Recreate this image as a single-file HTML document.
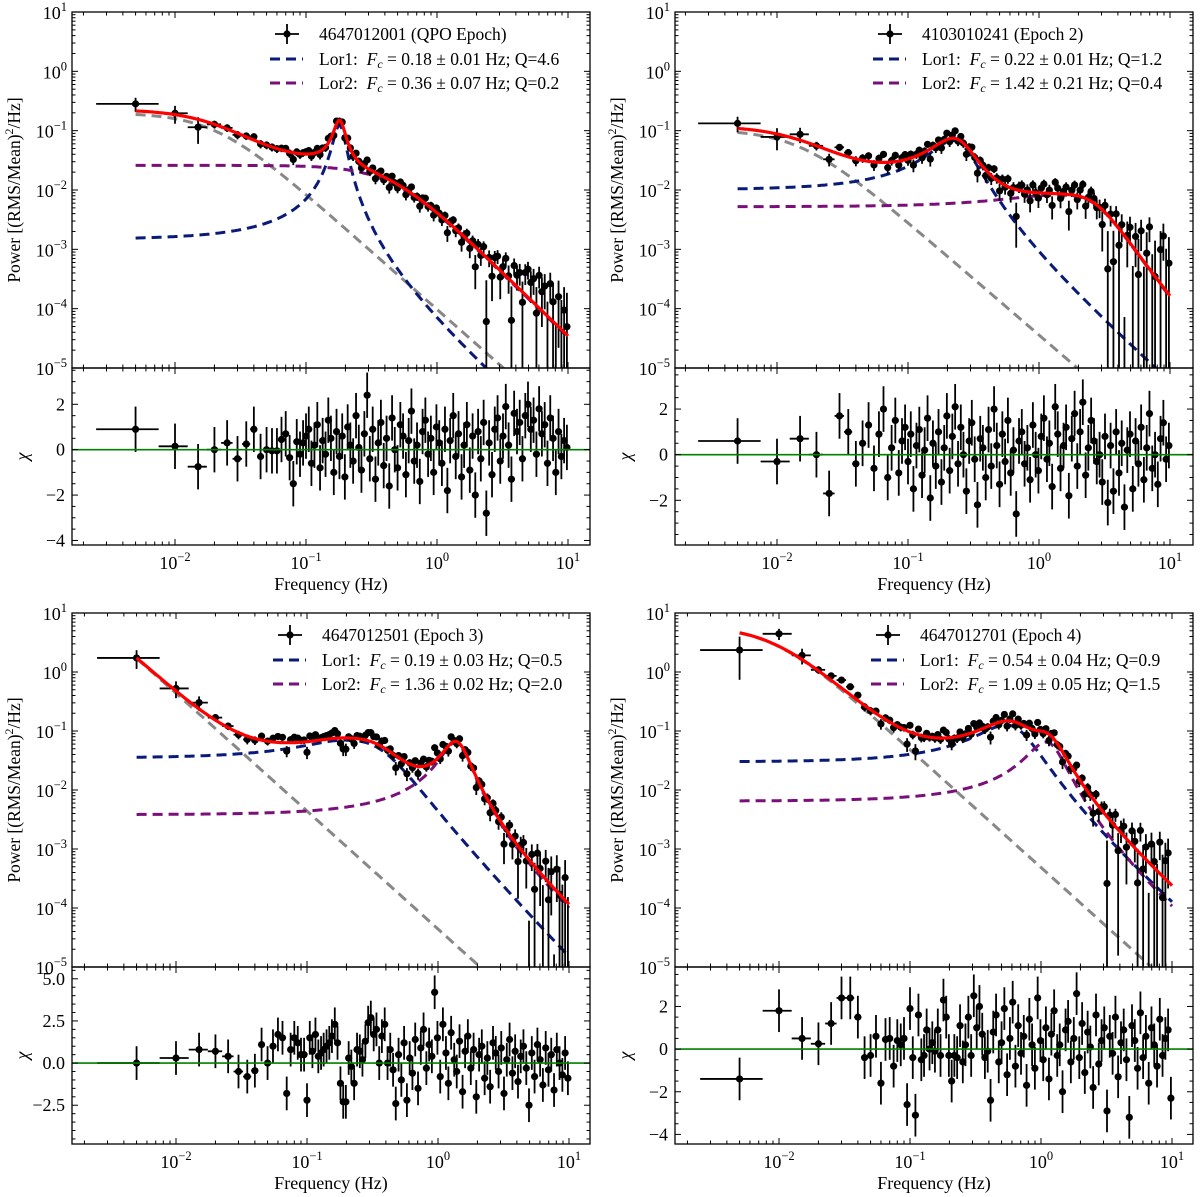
<!DOCTYPE html>
<html><head><meta charset="utf-8"><style>
html,body{margin:0;padding:0;background:#fff;}
svg{display:block;font-family:"Liberation Serif",serif;}
</style></head><body>
<svg id="fig" width="1200" height="1197" viewBox="0 0 1200 1197" xmlns="http://www.w3.org/2000/svg">
<rect x="0" y="0" width="1200" height="1197" fill="#fff"/>
</svg>
<script>
const freqs=[0.005,0.01,0.015,0.02,0.025,0.03,0.035,0.04,0.045,0.05,0.055,0.06,0.065,0.07,0.075,0.08,0.085,0.09,0.095,0.1,
0.105,0.11,0.116,0.122,0.128,0.134,0.141,0.148,0.155,0.163,0.171,0.18,0.189,0.198,0.208,0.218,0.229,0.241,0.253,0.265,
0.279,0.293,0.307,0.323,0.339,0.356,0.373,0.392,0.412,0.432,0.454,0.476,0.5,0.525,0.551,0.579,0.608,0.638,0.67,0.704,
0.739,0.776,0.815,0.855,0.898,0.943,0.99,1.04,1.09,1.15,1.2,1.26,1.33,1.39,1.46,1.54,1.61,1.69,1.78,1.87,
1.96,2.06,2.16,2.27,2.38,2.5,2.63,2.76,2.9,3.04,3.19,3.35,3.52,3.7,3.88,4.08,4.28,4.49,4.72,4.95,
5.2,5.46,5.74,6.02,6.32,6.64,6.97,7.32,7.69,8.07,8.47,8.9,9.34,9.81];
const chiTL=[0.9,0.15,-0.75,0.0,0.3,-0.4,0.25,0.9,-0.3,0.0,-0.05,-0.05,0.45,0.7,-0.35,-1.5,0.35,-0.2,0.3,0.6,
0.9,-0.6,0.2,1.1,-0.8,0.4,-0.2,1.3,0.5,-1.0,0.8,-0.3,0.6,-1.2,1.0,0.2,-0.5,1.5,0.1,-0.9,
0.7,2.4,-0.4,0.9,-1.3,0.3,1.2,-0.7,0.5,-1.6,1.4,0.0,-0.8,1.1,0.6,-1.1,0.4,1.7,-0.5,0.2,
-1.4,0.8,1.3,-0.2,0.5,-1.0,1.0,0.3,-0.6,0.9,-1.8,0.4,1.5,-0.3,0.7,-1.2,0.2,1.1,-0.9,0.6,
-2.0,0.8,-0.4,1.2,-2.8,0.3,-1.1,0.9,1.4,-0.5,0.6,1.9,0.2,-1.3,1.6,0.8,1.2,-0.4,1.5,2.0,
0.9,1.3,-0.2,1.8,0.7,1.1,-0.6,1.4,0.5,-1.0,0.8,-0.3,0.4,0.1];
const chiTR=[0.6,-0.3,0.7,0.0,-1.7,1.7,1.0,-0.4,0.5,1.3,-0.6,0.9,2.0,-1.0,0.3,1.5,-0.8,0.6,1.2,-0.3,
0.9,-1.5,0.4,1.1,-0.9,0.2,1.6,-1.9,0.5,-0.5,1.0,-1.2,0.3,1.7,-0.7,0.8,2.1,-0.4,1.2,0.0,
-1.6,0.6,1.4,-0.2,-2.2,0.7,0.3,-1.0,1.1,-0.5,2.0,0.4,-1.3,0.9,-0.3,1.5,-0.8,0.2,-2.6,0.6,
1.0,-0.4,0.3,-1.1,1.3,0.0,-0.7,0.8,1.6,-0.2,0.5,-1.4,2.1,0.9,-0.6,0.4,1.2,-1.8,0.7,1.8,
-0.5,1.0,2.3,-0.9,0.3,1.5,0.6,-0.3,0.0,-1.2,0.8,-2.1,0.4,-1.6,1.0,-0.8,0.5,-2.3,0.2,0.9,
-1.5,0.6,-0.4,1.2,-1.1,0.3,1.8,-0.6,0.0,-1.3,0.7,1.4,-0.2,0.4];
const chiBL=[0.0,0.3,0.8,0.7,0.4,-0.5,-0.8,-0.45,1.1,0.0,1.0,1.7,1.5,-1.8,0.8,1.5,1.2,0.5,0.5,-2.2,
1.5,0.7,1.7,0.4,0.6,0.8,1.0,1.2,1.6,2.3,1.2,-1.2,-2.3,-2.3,0.3,-0.2,-1.2,0.8,0.7,0.2,
1.3,2.4,2.7,1.7,2.0,0.0,1.6,2.3,0.0,0.8,-0.4,-2.4,0.5,-1.0,1.2,-2.2,0.3,-0.6,1.4,-1.5,
0.9,2.0,-0.3,1.1,0.4,4.2,1.5,-0.8,2.3,0.6,-1.2,1.8,0.2,-0.5,1.3,-1.7,0.7,1.6,-0.3,0.8,
-2.0,0.5,1.0,-0.9,0.3,-1.4,1.2,0.6,-0.5,0.9,-1.8,0.2,1.4,-0.6,0.7,-1.1,0.4,1.0,-0.3,-2.5,
0.6,-0.8,1.1,0.2,-1.3,0.9,-0.4,0.5,-1.6,0.8,0.0,-0.7,0.6,-0.9];
const chiBR=[-1.4,1.8,0.5,0.25,1.2,2.4,2.4,1.5,-0.4,-0.3,0.6,-1.6,0.45,0.5,-0.8,0.4,0.2,0.5,-2.6,1.9,
-0.4,-3.1,1.6,-0.5,-0.3,0.9,0.0,0.3,-0.1,0.9,-0.3,2.3,1.5,-0.3,-1.5,-0.3,-0.4,1.1,-0.6,0.2,
1.5,-0.3,2.5,1.0,2.0,0.7,-0.4,-0.1,-2.4,0.8,1.6,-0.6,0.3,1.9,-1.2,0.5,2.2,-0.8,1.1,-0.2,
0.6,-1.7,1.4,0.2,-0.9,2.4,0.4,-0.5,1.0,-1.4,0.7,1.8,-0.3,0.2,-2.0,0.9,1.3,-0.6,0.5,2.6,
-0.4,1.2,-1.1,0.8,0.1,-1.8,1.6,-0.7,0.4,1.0,-2.9,0.6,-0.2,1.5,-1.3,0.3,0.9,-0.5,-3.2,1.1,
0.4,-0.9,1.7,-0.4,0.6,-1.6,1.0,0.2,-0.8,1.4,-0.3,0.5,0.9,-2.3];
// component params [A, f0, wLow, wHigh, pLow, pHigh]
const grayTL=[0.2,0,1,0.02,2,1.95], blueTL=[0.125,0.18,0.0196,0.0196,2,2], purpTL=[0.026,0,1,0.45,2,2.15];
const grayTR=[0.105,0,1,0.015,2,1.9], blueTR=[0.068,0.22,0.0917,0.0917,2,2], purpTR=[0.0082,1.42,1.78,1.78,2.5,2.5];
const grayBL=[44,0,1,0.001,2,2], blueBL=[0.07,0.19,0.19,0.25,2,2.3], purpBL=[0.065,1.36,0.34,0.34,2,2];
const grayBR=[6,0,1,0.009,2,2], blueBR=[0.127,0.54,0.3,0.3,2,2], purpBR=[0.065,1.09,0.363,0.363,2,2];
const floorVals=[1.3e-4,1e-3,3e-4,6e-4];
const xTickLabels=["10","10","10","10"], xTickExps=["−2","−1","0","1"];
const yTickExps=["1","0","−1","−2","−3","−4","−5"];

const NS="http://www.w3.org/2000/svg";
const svg=document.getElementById('fig');
function mk(tag,attrs,parent){const e=document.createElementNS(NS,tag);for(const k in attrs)e.setAttribute(k,attrs[k]);(parent||svg).appendChild(e);return e;}
function lor(f,c){const d=f-c[1];const r=d<0?Math.pow(-d/c[2],c[4]):Math.pow(d/c[3],c[5]);return c[0]/(1+r);}

const panels=[
 {id:'tl',xL:72,xR:590,x2:175,yT:12,yM:368,yB:545,rTop:3.6,rBot:-4.2,rMaj:[-4,-2,0,2],rLab:["−4","−2","0","2"],rMinStep:0.5,
  gray:grayTL,blue:blueTL,purp:purpTL,chi:chiTL,floor:floorVals[0],title:"4647012001 (QPO Epoch)",l1:["0.18","0.01","4.6"],l2:["0.36","0.07","0.2"],dash:270},
 {id:'tr',xL:675,xR:1193,x2:777,yT:12,yM:368,yB:545,rTop:3.8,rBot:-3.96,rMaj:[-2,0,2],rLab:["−2","0","2"],rMinStep:0.5,
  gray:grayTR,blue:blueTR,purp:purpTR,chi:chiTR,floor:floorVals[1],title:"4103010241 (Epoch 2)",l1:["0.22","0.01","1.2"],l2:["1.42","0.21","0.4"],dash:873},
 {id:'bl',xL:72,xR:590,x2:176,yT:613,yM:967,yB:1144,rTop:5.7,rBot:-4.8,rMaj:[-2.5,0,2.5,5],rLab:["−2.5","0.0","2.5","5.0"],rMinStep:0.5,
  gray:grayBL,blue:blueBL,purp:purpBL,chi:chiBL,floor:floorVals[2],title:"4647012501 (Epoch 3)",l1:["0.19","0.03","0.5"],l2:["1.36","0.02","2.0"],dash:273},
 {id:'br',xL:675,xR:1193,x2:779,yT:613,yM:967,yB:1144,rTop:3.85,rBot:-4.45,rMaj:[-4,-2,0,2],rLab:["−4","−2","0","2"],rMinStep:0.5,
  gray:grayBR,blue:blueBR,purp:purpBR,chi:chiBR,floor:floorVals[3],title:"4647012701 (Epoch 4)",l1:["0.54","0.04","0.9"],l2:["1.09","0.05","1.5"],dash:871}
];

panels.forEach(P=>{
 const X=f=>P.x2+(Math.log10(f)+2)*131;
 const Y=v=>P.yT+(1-Math.log10(v))*(P.yM-P.yT)/6;
 const R=c=>P.yM+(P.rTop-c)*(P.yB-P.yM)/(P.rTop-P.rBot);
 const model=f=>lor(f,P.gray)+lor(f,P.blue)+lor(f,P.purp);
 const g=mk('g',{});
 
 
 const defs=mk('defs',{},g);
 const cp1=mk('clipPath',{id:'cm'+P.id},defs);
 mk('rect',{x:P.xL,y:P.yT,width:P.xR-P.xL,height:P.yM-P.yT},cp1);
 const cp2=mk('clipPath',{id:'cr'+P.id},defs);
 mk('rect',{x:P.xL,y:P.yM,width:P.xR-P.xL,height:P.yB-P.yM},cp2);

 const comps=[[P.gray,'#888888','gray-powerlaw-component'],[P.blue,'#0a1a78','lor1-component'],[P.purp,'#7a0f7a','lor2-component']];
 const cg=mk('g',{'clip-path':'url(#cm'+P.id+')'},g);
 function pathFor(fn){let d='';for(let i=0;i<=300;i++){const f=0.005*Math.pow(2000,i/300);d+=(i?'L':'M')+X(f).toFixed(1)+','+Y(fn(f)).toFixed(1);}return d;}
 comps.forEach(c=>{
  const p=mk('path',{d:pathFor(f=>lor(f,c[0])),fill:'none',stroke:c[1],'stroke-width':3,'stroke-dasharray':'10,6'},cg);
  
  
 });
 const dg=mk('g',{'clip-path':'url(#cm'+P.id+')'},g);
 const rg=mk('g',{'clip-path':'url(#cr'+P.id+')'},g);
 const zl=mk('line',{x1:P.xL,x2:P.xR,y1:R(0),y2:R(0),stroke:'#008000','stroke-width':1.6},g);
 
 
 const n=Math.min(freqs.length,P.chi.length);
 for(let i=0;i<n;i++){
  const f=freqs[i];
  const lo=i===0?f-0.0025:(freqs[i-1]+f)/2;
  const hi=i===n-1?f+(f-freqs[i-1])/2:(f+freqs[i+1])/2;
  const m=model(f);
  const s=m*(i<3?0.35:0.15)+P.floor;
  const v=m+P.chi[i]*s;
  const top=v+s, bot=v-s;
  const pt=mk('g',{},dg);
  
  
  if(top>0){
   const yTop=Y(top), yBot=bot>0?Y(bot):P.yM+10;
   const yv=v>0?Y(v):P.yM+10;
   mk('line',{x1:X(f),x2:X(f),y1:yTop,y2:yBot,stroke:'#000','stroke-width':1.8},pt);
   if(v>0){
    mk('line',{x1:X(lo),x2:X(hi),y1:yv,y2:yv,stroke:'#000','stroke-width':1.8},pt);
    mk('circle',{cx:X(f),cy:yv,r:3.6,fill:'#000'},pt);
   }
  }
  const rp=mk('g',{},rg);
  
  
  const c=P.chi[i];
  mk('line',{x1:X(f),x2:X(f),y1:R(c+1),y2:R(c-1),stroke:'#000','stroke-width':1.8},rp);
  mk('line',{x1:X(lo),x2:X(hi),y1:R(c),y2:R(c),stroke:'#000','stroke-width':1.8},rp);
  mk('circle',{cx:X(f),cy:R(c),r:3.6,fill:'#000'},rp);
 }
 const redg=mk('g',{'clip-path':'url(#cm'+P.id+')'},g);
 const red=mk('path',{d:pathFor(model),fill:'none',stroke:'#ff0000','stroke-width':3.2},redg);
 
 

 const fm=mk('rect',{x:P.xL,y:P.yT,width:P.xR-P.xL,height:P.yM-P.yT,fill:'none',stroke:'#000','stroke-width':1.3},g);
 
 
 const fr=mk('rect',{x:P.xL,y:P.yM,width:P.xR-P.xL,height:P.yB-P.yM,fill:'none',stroke:'#000','stroke-width':1.3},g);
 
 

 const tk=mk('g',{stroke:'#000','stroke-width':1},g);
 
 
 for(let d=-3;d<=1;d++){for(let k=1;k<=9;k++){
  const x=X(k*Math.pow(10,d)); if(x<P.xL||x>P.xR)continue;
  const L=k===1?6:3.5;
  [[P.yT,1],[P.yM,-1],[P.yM,1],[P.yB,-1]].forEach(a=>mk('line',{x1:x,x2:x,y1:a[0],y2:a[0]+a[1]*L},tk));
 }}
 for(let d=-5;d<=1;d++){for(let k=1;k<=9;k++){
  const v=k*Math.pow(10,d); if(v>10)continue; const y=Y(v); if(y<P.yT-0.5||y>P.yM+0.5)continue;
  const L=k===1?6:3.5;
  mk('line',{x1:P.xL,x2:P.xL+L,y1:y,y2:y},tk); mk('line',{x1:P.xR,x2:P.xR-L,y1:y,y2:y},tk);
 }}
 for(let c=Math.ceil(P.rBot/P.rMinStep)*P.rMinStep;c<=P.rTop;c+=P.rMinStep){
  const maj=P.rMaj.some(m=>Math.abs(m-c)<1e-6); const L=maj?6:3.5; const y=R(c);
  mk('line',{x1:P.xL,x2:P.xL+L,y1:y,y2:y},tk); mk('line',{x1:P.xR,x2:P.xR-L,y1:y,y2:y},tk);
 }
 for(let i=0;i<4;i++){
  const t=mk('text',{x:X(Math.pow(10,i-2)),y:P.yB+24,'text-anchor':'middle','font-size':18},g);
  
  
  t.innerHTML=xTickLabels[i]+'<tspan dy="-8" font-size="12.5">'+xTickExps[i]+'</tspan>';
 }
 for(let i=0;i<7;i++){
  const t=mk('text',{x:P.xL-5,y:Y(Math.pow(10,1-i))+7,'text-anchor':'end','font-size':18},g);
  
  
  t.innerHTML='10<tspan dy="-8" font-size="12.5">'+yTickExps[i]+'</tspan>';
 }
 P.rMaj.forEach((m,j)=>{
  const t=mk('text',{x:P.xL-7,y:R(m)+6,'text-anchor':'end','font-size':18},g);
  
  
  t.textContent=P.rLab[j];
 });
 const xl=mk('text',{x:(P.xL+P.xR)/2,y:P.yB+45,'text-anchor':'middle','font-size':18},g);
 
 
 xl.textContent='Frequency (Hz)';
 const yc=(P.yT+P.yM)/2;
 const yl=mk('text',{x:P.xL-52,y:yc,'text-anchor':'middle','font-size':17.5,transform:'rotate(-90 '+(P.xL-52)+' '+yc+')'},g);
 
 
 yl.innerHTML='Power [(RMS/Mean)<tspan dy="-7" font-size="12">2</tspan><tspan dy="7">/Hz]</tspan>';
 const rc=(P.yM+P.yB)/2;
 const cl=mk('text',{x:P.xL-44,y:rc,'text-anchor':'middle','font-size':18,'font-style':'italic',transform:'rotate(-90 '+(P.xL-44)+' '+rc+')'},g);
 
 
 cl.textContent='χ';

 const lg=mk('g',{},g);
 
 
 const lx=P.dash, tx=P.dash+49, r0=P.yT+22;
 const e1=mk('g',{},lg);
 
 
 mk('line',{x1:lx+5,x2:lx+29,y1:r0,y2:r0,stroke:'#000','stroke-width':1.8},e1);
 mk('line',{x1:lx+17,x2:lx+17,y1:r0-10,y2:r0+10,stroke:'#000','stroke-width':1.8},e1);
 mk('circle',{cx:lx+17,cy:r0,r:3.6,fill:'#000'},e1);
 const t0=mk('text',{x:tx,y:r0+6,'font-size':17.5},e1);
 t0.textContent=P.title;
 [[P.l1,'#0a1a78','Lor1',25],[P.l2,'#7a0f7a','Lor2',49]].forEach(L=>{
  const e=mk('g',{},lg);
  
  
  mk('line',{x1:lx,x2:lx+33,y1:r0+L[3],y2:r0+L[3],stroke:L[1],'stroke-width':3,'stroke-dasharray':'10,6'},e);
  const t=mk('text',{x:tx,y:r0+L[3]+6,'font-size':17.5},e);
  t.innerHTML=L[2]+':&#160; <tspan font-style="italic">F</tspan><tspan font-style="italic" font-size="12" dy="3">c</tspan><tspan dy="-3"> = '+L[0][0]+' ± '+L[0][1]+' Hz; Q='+L[0][2]+'</tspan>';
 });
});
</script>
</body></html>
